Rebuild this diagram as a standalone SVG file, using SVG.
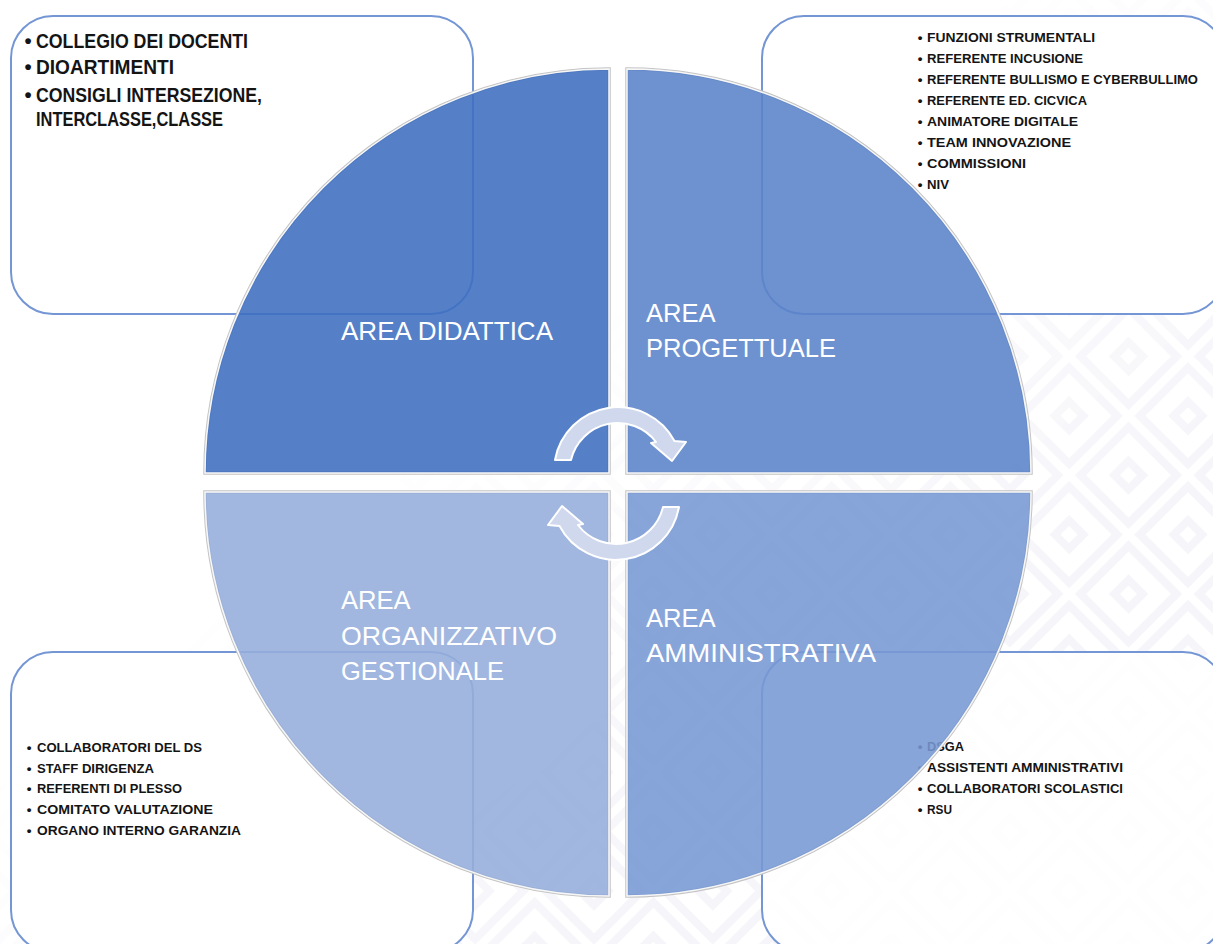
<svg xmlns="http://www.w3.org/2000/svg" width="1213" height="944" viewBox="0 0 1213 944">
  <defs>
    <style>
      .box { fill: #ffffff; fill-opacity: 0.9; stroke: #7496D4; stroke-width: 2; }
      .q { opacity: 0.88; stroke: #ffffff; stroke-width: 1.5; }
      .qo { fill: none; stroke: #c4c4c4; stroke-width: 3.5; }
      .ql { font-family: "Liberation Sans", Arial, sans-serif; font-size: 25.6px; fill: #ffffff; }
      .bt { font-family: "Liberation Sans", Arial, sans-serif; font-weight: bold; fill: #141414; }
      .big { font-size: 20.5px; }
      .sm { font-size: 13.5px; }
      .arr { fill: #D0D8EE; stroke: #ffffff; stroke-width: 2; stroke-linejoin: round; }
    </style>
    <pattern id="maze" width="84" height="84" patternUnits="userSpaceOnUse" patternTransform="rotate(45)">
      <rect x="8" y="8" width="68" height="68" fill="none" stroke="#f5f5fa" stroke-width="8"/>
      <rect x="32" y="32" width="20" height="20" fill="none" stroke="#f5f5fa" stroke-width="8"/>
    </pattern>
    <linearGradient id="fade" x1="0" y1="0" x2="1" y2="1">
      <stop offset="0.4" stop-color="#fff" stop-opacity="0"/>
      <stop offset="0.75" stop-color="#fff" stop-opacity="1"/>
    </linearGradient>
    <mask id="fm">
      <rect x="0" y="0" width="1213" height="944" fill="url(#fade)"/>
    </mask>
  </defs>

  <rect x="0" y="0" width="1213" height="944" fill="#ffffff"/>
  <g id="background-pattern" mask="url(#fm)">
    <rect x="0" y="0" width="1213" height="944" fill="url(#maze)"/>
  </g>

  <!-- text boxes (under the circle) -->
  <g id="box-didattica">
    <rect class="box" x="11" y="16" width="462" height="298" rx="42"/>
    <g class="bt big">
      <text x="28" y="48" text-anchor="middle">•</text>
      <text x="36" y="48" textLength="212" lengthAdjust="spacingAndGlyphs">COLLEGIO DEI DOCENTI</text>
      <text x="28" y="74" text-anchor="middle">•</text>
      <text x="36" y="74" textLength="138" lengthAdjust="spacingAndGlyphs">DIOARTIMENTI</text>
      <text x="28" y="102" text-anchor="middle">•</text>
      <text x="36" y="102" textLength="226" lengthAdjust="spacingAndGlyphs">CONSIGLI INTERSEZIONE,</text>
      <text x="36" y="126" textLength="187" lengthAdjust="spacingAndGlyphs">INTERCLASSE,CLASSE</text>
    </g>
  </g>

  <g id="box-progettuale">
    <rect class="box" x="762" y="16" width="463" height="298" rx="42"/>
    <g class="bt sm">
      <text x="920" y="42" text-anchor="middle">•</text>
      <text x="927" y="42" textLength="168" lengthAdjust="spacingAndGlyphs">FUNZIONI STRUMENTALI</text>
      <text x="920" y="63" text-anchor="middle">•</text>
      <text x="927" y="63" textLength="156" lengthAdjust="spacingAndGlyphs">REFERENTE INCUSIONE</text>
      <text x="920" y="84" text-anchor="middle">•</text>
      <text x="927" y="84" textLength="271" lengthAdjust="spacingAndGlyphs">REFERENTE BULLISMO E CYBERBULLIMO</text>
      <text x="920" y="105" text-anchor="middle">•</text>
      <text x="927" y="105" textLength="160" lengthAdjust="spacingAndGlyphs">REFERENTE ED.  CICVICA</text>
      <text x="920" y="126" text-anchor="middle">•</text>
      <text x="927" y="126" textLength="151" lengthAdjust="spacingAndGlyphs">ANIMATORE DIGITALE</text>
      <text x="920" y="147" text-anchor="middle">•</text>
      <text x="927" y="147" textLength="144" lengthAdjust="spacingAndGlyphs">TEAM INNOVAZIONE</text>
      <text x="920" y="168" text-anchor="middle">•</text>
      <text x="927" y="168" textLength="99" lengthAdjust="spacingAndGlyphs">COMMISSIONI</text>
      <text x="920" y="189" text-anchor="middle">•</text>
      <text x="927" y="189" textLength="22" lengthAdjust="spacingAndGlyphs">NIV</text>
    </g>
  </g>

  <g id="box-organizzativo">
    <rect class="box" x="11" y="652" width="462" height="300" rx="42"/>
    <g class="bt sm">
      <text x="29" y="752" text-anchor="middle">•</text>
      <text x="37" y="752" textLength="165" lengthAdjust="spacingAndGlyphs">COLLABORATORI DEL DS</text>
      <text x="29" y="773" text-anchor="middle">•</text>
      <text x="37" y="773" textLength="117" lengthAdjust="spacingAndGlyphs">STAFF DIRIGENZA</text>
      <text x="29" y="793" text-anchor="middle">•</text>
      <text x="37" y="793" textLength="145" lengthAdjust="spacingAndGlyphs">REFERENTI DI PLESSO</text>
      <text x="29" y="814" text-anchor="middle">•</text>
      <text x="37" y="814" textLength="176" lengthAdjust="spacingAndGlyphs">COMITATO VALUTAZIONE</text>
      <text x="29" y="835" text-anchor="middle">•</text>
      <text x="37" y="835" textLength="204" lengthAdjust="spacingAndGlyphs">ORGANO INTERNO GARANZIA</text>
    </g>
  </g>

  <g id="box-amministrativa">
    <rect class="box" x="762" y="652" width="463" height="300" rx="42"/>
    <g class="bt sm">
      <text x="920" y="751" text-anchor="middle">•</text>
      <text x="927" y="751" textLength="37" lengthAdjust="spacingAndGlyphs">DSGA</text>
      <text x="920" y="772" text-anchor="middle">•</text>
      <text x="927" y="772" textLength="196" lengthAdjust="spacingAndGlyphs">ASSISTENTI AMMINISTRATIVI</text>
      <text x="920" y="793" text-anchor="middle">•</text>
      <text x="927" y="793" textLength="196" lengthAdjust="spacingAndGlyphs">COLLABORATORI SCOLASTICI</text>
      <text x="920" y="814" text-anchor="middle">•</text>
      <text x="927" y="814" textLength="25" lengthAdjust="spacingAndGlyphs">RSU</text>
    </g>
  </g>

  <!-- circle quadrants -->
  <g id="area-didattica">
    <path class="qo" d="M 609 473 L 205 473 A 404 404 0 0 1 609 69 Z"/>
    <path class="q" fill="#3E6FC1" d="M 609 473 L 205 473 A 404 404 0 0 1 609 69 Z"/>
    <text class="ql" x="341" y="340" textLength="212" lengthAdjust="spacingAndGlyphs">AREA DIDATTICA</text>
  </g>
  <g id="area-progettuale">
    <path class="qo" d="M 627 473 L 627 69 A 404 404 0 0 1 1031 473 Z"/>
    <path class="q" fill="#5B83CA" d="M 627 473 L 627 69 A 404 404 0 0 1 1031 473 Z"/>
    <text class="ql" x="646" y="322">AREA</text>
    <text class="ql" x="646" y="357" textLength="190" lengthAdjust="spacingAndGlyphs">PROGETTUALE</text>
  </g>
  <g id="area-amministrativa">
    <path class="qo" d="M 627 492 L 1031 492 A 404 404 0 0 1 627 896 Z"/>
    <path class="q" fill="#7899D4" d="M 627 492 L 1031 492 A 404 404 0 0 1 627 896 Z"/>
    <text class="ql" x="646" y="627">AREA</text>
    <text class="ql" x="646" y="662" textLength="230" lengthAdjust="spacingAndGlyphs">AMMINISTRATIVA</text>
  </g>
  <g id="area-organizzativo">
    <path class="qo" d="M 609 492 L 609 896 A 404 404 0 0 1 205 492 Z"/>
    <path class="q" fill="#95AEDC" d="M 609 492 L 609 896 A 404 404 0 0 1 205 492 Z"/>
    <text class="ql" x="341" y="609">AREA</text>
    <text class="ql" x="341" y="645" textLength="216" lengthAdjust="spacingAndGlyphs">ORGANIZZATIVO</text>
    <text class="ql" x="341" y="680" textLength="163" lengthAdjust="spacingAndGlyphs">GESTIONALE</text>
  </g>

  <!-- circular arrows -->
  <g id="connectors">
    <path id="arrow-top" class="arr" d="M 555 460 A 64 64 0 0 1 674.5 441 L 686 442 L 672 461 L 651 443 L 656 442 A 48 48 0 0 0 571 460 Z"/>
    <path id="arrow-bottom" class="arr" transform="rotate(180 617 483.5)" d="M 555 460 A 64 64 0 0 1 674.5 441 L 686 442 L 672 461 L 651 443 L 656 442 A 48 48 0 0 0 571 460 Z"/>
  </g>
</svg>
